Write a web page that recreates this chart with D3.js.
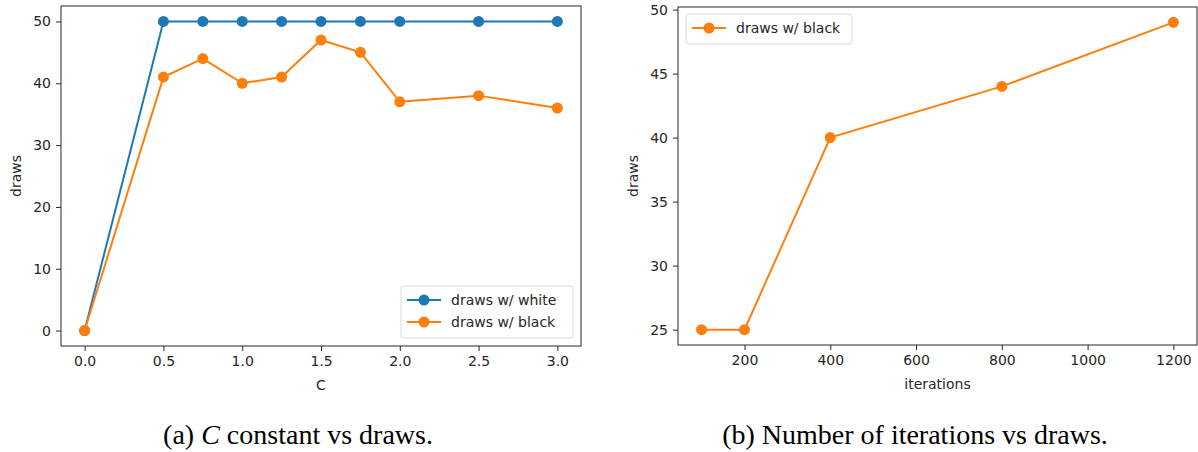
<!DOCTYPE html>
<html>
<head>
<meta charset="utf-8">
<script src="https://cdn.jsdelivr.net/npm/d3@7"></script>
<style>
  body { margin: 0; background: #fff; }
  text { font-family: "DejaVu Sans", sans-serif; fill: #262626; }
  .caption { font-family: "Liberation Serif", serif; fill: #000; }
</style>
</head>
<body>
<svg id="chart" width="1198" height="452"></svg>
<script>
// left panel: C constant vs draws
var cValues = [0, 0.5, 0.75, 1.0, 1.25, 1.5, 1.75, 2.0, 2.5, 3.0];
var drawsWhite = [0, 50, 50, 50, 50, 50, 50, 50, 50, 50];
var drawsBlack = [0, 41, 44, 40, 41, 47, 45, 37, 38, 36];
var leftXTicks = [0, 0.5, 1.0, 1.5, 2.0, 2.5, 3.0];
var leftYTicks = [0, 10, 20, 30, 40, 50];

// right panel: iterations vs draws
var iterations = [100, 200, 400, 800, 1200];
var iterBlack = [25, 25, 40, 44, 49];
var rightXTicks = [200, 400, 600, 800, 1000, 1200];
var rightYTicks = [25, 30, 35, 40, 45, 50];

var cBlue = "#1f77b4";
var cOrange = "#ff7f0e";

var svg = d3.select("#chart");

function panel(opt) {
  var g = svg.append("g");
  var x = d3.scaleLinear().domain(opt.xDomain).range([opt.left, opt.right]);
  var y = d3.scaleLinear().domain(opt.yDomain).range([opt.bottom, opt.top]);

  var xAxis = d3.axisBottom(x).tickValues(opt.xTicks).tickSize(5).tickPadding(5).tickFormat(opt.xFormat);
  var yAxis = d3.axisLeft(y).tickValues(opt.yTicks).tickSize(5).tickPadding(5).tickFormat(d3.format("d"));

  var gx = g.append("g").attr("transform", "translate(0," + opt.bottom + ")").call(xAxis);
  var gy = g.append("g").attr("transform", "translate(" + opt.left + ",0)").call(yAxis);
  [gx, gy].forEach(function(a){
    a.select(".domain").remove();
    a.selectAll("line").attr("stroke", "#262626").attr("stroke-width", 1);
    a.selectAll("text").style("font-size", "14px").style("font-family", "DejaVu Sans").attr("fill", "#333");
  });

  // frame
  g.append("rect")
    .attr("x", opt.left).attr("y", opt.top)
    .attr("width", opt.right - opt.left).attr("height", opt.bottom - opt.top)
    .attr("fill", "none").attr("stroke", "#262626").attr("stroke-width", 1);

  var line = d3.line().x(function(d){ return x(d[0]); }).y(function(d){ return y(d[1]); });

  opt.series.forEach(function(s){
    var pts = d3.zip(opt.xs, s.values);
    g.append("path").datum(pts)
      .attr("d", line).attr("fill", "none")
      .attr("stroke", s.color).attr("stroke-width", 2);
    g.selectAll(null).data(pts).enter().append("circle")
      .attr("cx", function(d){ return x(d[0]); })
      .attr("cy", function(d){ return y(d[1]); })
      .attr("r", 5.5).attr("fill", s.color);
  });

  // axis labels
  g.append("text")
    .attr("x", (opt.left + opt.right) / 2).attr("y", opt.bottom + 44)
    .attr("text-anchor", "middle").style("font-size", "14px")
    .text(opt.xLabel);
  g.append("text")
    .attr("transform", "translate(" + (opt.left - 40) + "," + ((opt.top + opt.bottom) / 2) + ") rotate(-90)")
    .attr("text-anchor", "middle").style("font-size", "14px")
    .text("draws");

  // legend
  var lg = g.append("g").attr("transform", "translate(" + opt.legend.x + "," + opt.legend.y + ")");
  lg.append("rect")
    .attr("width", opt.legend.w).attr("height", 8 + opt.series.length * 22)
    .attr("rx", 3).attr("fill", "#fff").attr("fill-opacity", 0.8)
    .attr("stroke", "#d9d9d9");
  opt.series.forEach(function(s, i){
    var yy = 14 + i * 22;
    lg.append("line").attr("x1", 6).attr("x2", 40).attr("y1", yy).attr("y2", yy)
      .attr("stroke", s.color).attr("stroke-width", 2);
    lg.append("circle").attr("cx", 23).attr("cy", yy).attr("r", 5.5).attr("fill", s.color);
    lg.append("text").attr("x", 50).attr("y", yy + 5).style("font-size", "14px").text(s.name);
  });

  // caption
  var cap = svg.append("text").attr("class", "caption")
    .attr("x", opt.captionX).attr("y", 444)
    .attr("text-anchor", "middle").style("font-size", "28px");
  opt.caption.forEach(function(part){
    cap.append("tspan").style("font-style", part.italic ? "italic" : "normal").text(part.text);
  });
}

panel({
  left: 61, right: 581, top: 6, bottom: 346,
  xDomain: [-0.15, 3.15], yDomain: [-2.5, 52.5],
  xTicks: leftXTicks, yTicks: leftYTicks, xFormat: d3.format(".1f"),
  xs: cValues,
  series: [
    {name: "draws w/ white", values: drawsWhite, color: cBlue},
    {name: "draws w/ black", values: drawsBlack, color: cOrange}
  ],
  xLabel: "C",
  legend: {x: 401, y: 286, w: 172},
  caption: [{text: "(a) "}, {text: "C", italic: true}, {text: " constant vs draws."}], captionX: 298
});

panel({
  left: 678, right: 1197, top: 7, bottom: 345,
  xDomain: [45, 1255], yDomain: [23.8, 50.2],
  xTicks: rightXTicks, yTicks: rightYTicks, xFormat: d3.format("d"),
  xs: iterations,
  series: [
    {name: "draws w/ black", values: iterBlack, color: cOrange}
  ],
  xLabel: "iterations",
  legend: {x: 686, y: 14, w: 166},
  caption: [{text: "(b) Number of iterations vs draws."}], captionX: 915
});
</script>
</body>
</html>
